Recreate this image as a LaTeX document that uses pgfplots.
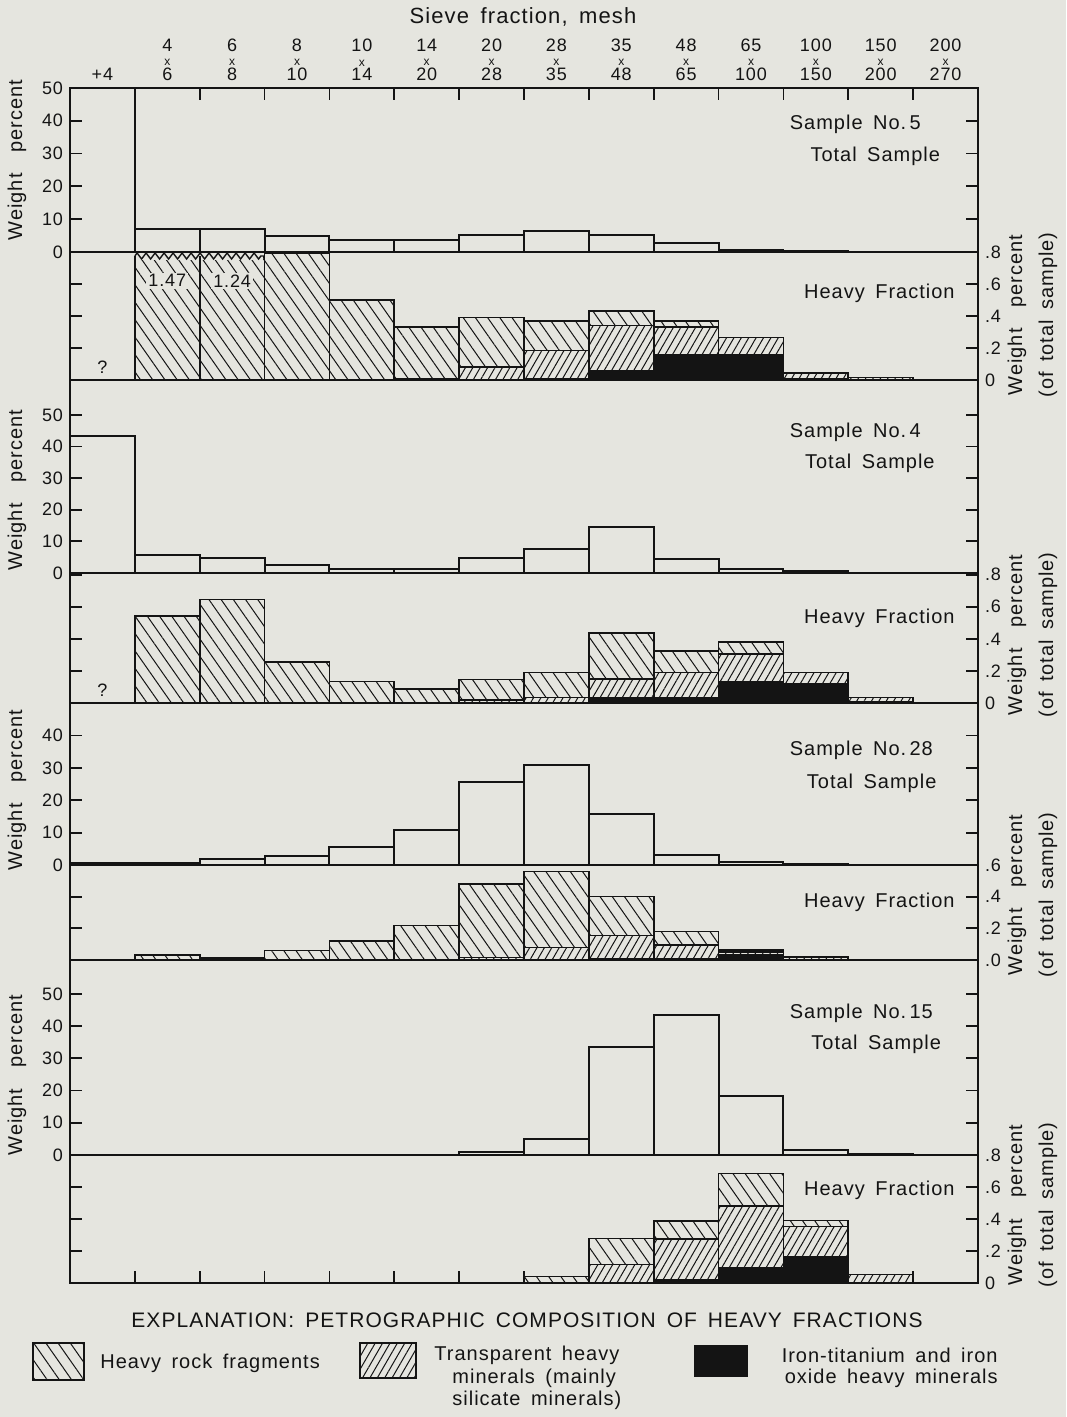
\documentclass[border=0pt]{standalone}
\usepackage{fontspec}
\setmainfont{Liberation Sans}[LetterSpace=5,WordSpace=1.6]
\usepackage{pgfplots}
\pgfplotsset{compat=1.18}
\usetikzlibrary{patterns.meta,decorations.pathmorphing}
\definecolor{bgc}{RGB}{229,229,223}
\definecolor{ink}{RGB}{20,20,20}

\pgfplotsset{
  panel/.style={scale only axis, width=454pt, xmin=-0.5, xmax=13.5,
    axis line style={ink, line width=1.2pt},
    ybar stacked, bar width=1,
    xtick=\empty, ymin=0,
    tick align=inside, major tick length=6pt,
    every tick/.style={ink, line width=0.9pt},
    ytick pos=both,
    tick label style={font=\fontsize{9}{10}\selectfont, text=ink},
    anchor=south west},
  total/.style={panel, yticklabel pos=left},
  heavy/.style={panel, yticklabel pos=right, ymax=0.8,
    ytick={0,0.2,0.4,0.6,0.8}, yticklabels={0,.2,.4,.6,.8}},
  tot/.style={draw=ink, line width=1pt, fill=none},
  iron/.style={draw=ink, line width=0.8pt, fill=ink},
  trans/.style={draw=ink, line width=0.8pt,
    pattern={Lines[angle=60,distance=3.2pt,line width=0.5pt]}, pattern color=ink},
  rock/.style={draw=ink, line width=0.8pt,
    pattern={Lines[angle=-55,distance=5pt,line width=0.5pt]}, pattern color=ink},
}
\newcommand{\lbl}{\fontsize{10}{12}\selectfont}
\newcommand{\sx}{{\fontsize{6}{6}\selectfont x}}

\begin{document}
\begin{tikzpicture}
\useasboundingbox[fill=bgc] (0,0) rectangle (533pt,-708.5pt);

\node[text=ink, font=\fontsize{11}{12}\selectfont] at (261.5pt,-8.5pt) {Sieve fraction, mesh};

% ---------- Sample 5 total
\begin{axis}[total, at={(35pt,-126pt)}, height=82pt, ymax=50,
  ytick={0,10,20,30,40,50}, yticklabels={0,10,20,30,40,50},
  xtick={0.5,1.5,...,12.5}, xticklabels={}, xtick pos=right,
  extra x ticks={0,1,...,13},
  extra x tick labels={{+4},{4\\\sx\\6},{6\\\sx\\8},{8\\\sx\\10},{10\\\sx\\14},{14\\\sx\\20},{20\\\sx\\28},{28\\\sx\\35},{35\\\sx\\48},{48\\\sx\\65},{65\\\sx\\100},{100\\\sx\\150},{150\\\sx\\200},{200\\\sx\\270}},
  extra x tick style={major tick length=0pt, xticklabel pos=right,
    xticklabel style={align=center, font=\fontsize{9}{7.4}\selectfont}}]
\addplot[tot] coordinates {(0,100) (1,7.1) (2,7.0) (3,5.0) (4,3.6) (5,3.6) (6,5.2) (7,6.4) (8,5.1) (9,2.6) (10,0.6) (11,0.2) (12,0.1) (13,0)};
\node[anchor=west, text=ink, font=\lbl] at (rel axis cs:0.785,0.78) {Sample No.\,5};
\node[anchor=east, text=ink, font=\lbl] at (rel axis cs:0.966,0.585) {Total Sample};
\end{axis}

% ---------- Sample 5 heavy
\begin{axis}[heavy, at={(35pt,-190pt)}, height=64pt]
\addplot[iron] coordinates {(1,0) (2,0) (3,0) (4,0) (5,0) (6,0) (7,0.01) (8,0.06) (9,0.157) (10,0.157) (11,0.01) (12,0)};
\addplot[trans] coordinates {(1,0) (2,0) (3,0) (4,0) (5,0.01) (6,0.083) (7,0.175) (8,0.28) (9,0.173) (10,0.108) (11,0.035) (12,0.015)};
\addplot[rock] coordinates {(1,0.77) (2,0.77) (3,0.79) (4,0.50) (5,0.32) (6,0.307) (7,0.185) (8,0.09) (9,0.04) (10,0) (11,0) (12,0)};
\node[text=ink, font=\fontsize{9}{10}\selectfont] at (axis cs:0,0.08) {?};
\node[anchor=east, text=ink, font=\lbl] at (rel axis cs:0.982,0.68) {Heavy Fraction};
\end{axis}
% overlay for the broken bars (drawn after the panel so it lies on top)
\begin{axis}[scale only axis, width=454pt, height=64pt, at={(35pt,-190pt)}, anchor=south west,
  xmin=-0.5, xmax=13.5, ymin=0, ymax=0.8, hide axis, clip=false]
\fill[bgc] (axis cs:0.52,0.752) rectangle (axis cs:2.48,0.786);
\draw[ink, line width=0.7pt, decorate, decoration={zigzag, segment length=4.5pt, amplitude=1.5pt}] (axis cs:0.5,0.775) -- (axis cs:2.5,0.775);
\draw[ink, line width=0.8pt] (axis cs:0.5,0.74) -- (axis cs:0.5,0.775) (axis cs:1.5,0.74) -- (axis cs:1.5,0.775) (axis cs:2.5,0.74) -- (axis cs:2.5,0.79);
\node[fill=bgc, inner sep=1pt, text=ink, font=\fontsize{9}{10}\selectfont] at (axis cs:1,0.62) {1.47};
\node[fill=bgc, inner sep=1pt, text=ink, font=\fontsize{9}{10}\selectfont] at (axis cs:2,0.62) {1.24};
\end{axis}

% ---------- Sample 4 total
\begin{axis}[total, at={(35pt,-286.5pt)}, height=96.5pt, ymax=61,
  ytick={0,10,20,30,40,50}, yticklabels={0,10,20,30,40,50}]
\addplot[tot] coordinates {(0,43.3) (1,5.7) (2,4.6) (3,2.6) (4,1.4) (5,1.4) (6,4.7) (7,7.6) (8,14.6) (9,4.5) (10,1.4) (11,0.7) (12,0) (13,0)};
\node[anchor=west, text=ink, font=\lbl] at (rel axis cs:0.785,0.73) {Sample No.\,4};
\node[anchor=east, text=ink, font=\lbl] at (rel axis cs:0.96,0.57) {Total Sample};
\end{axis}

% ---------- Sample 4 heavy
\begin{axis}[heavy, at={(35pt,-351.5pt)}, height=65pt, ymax=0.81]
\addplot[iron] coordinates {(1,0) (2,0) (3,0) (4,0) (5,0) (6,0) (7,0) (8,0.034) (9,0.03) (10,0.133) (11,0.118) (12,0.005)};
\addplot[trans] coordinates {(1,0) (2,0) (3,0) (4,0) (5,0) (6,0.02) (7,0.034) (8,0.116) (9,0.16) (10,0.172) (11,0.072) (12,0.029)};
\addplot[rock] coordinates {(1,0.543) (2,0.644) (3,0.255) (4,0.133) (5,0.086) (6,0.127) (7,0.156) (8,0.288) (9,0.134) (10,0.075) (11,0) (12,0)};
\node[text=ink, font=\fontsize{9}{10}\selectfont] at (axis cs:0,0.08) {?};
\node[anchor=east, text=ink, font=\lbl] at (rel axis cs:0.982,0.654) {Heavy Fraction};
\end{axis}

% ---------- Sample 28 total
\begin{axis}[total, at={(35pt,-432.5pt)}, height=81pt, ymax=50,
  ytick={0,10,20,30,40}, yticklabels={0,10,20,30,40}]
\addplot[tot] coordinates {(0,0.5) (1,0.5) (2,2.0) (3,2.9) (4,5.7) (5,10.9) (6,25.6) (7,30.8) (8,15.8) (9,3.1) (10,0.8) (11,0.2) (12,0.1) (13,0.1)};
\node[anchor=west, text=ink, font=\lbl] at (rel axis cs:0.785,0.71) {Sample No.\,28};
\node[anchor=east, text=ink, font=\lbl] at (rel axis cs:0.962,0.506) {Total Sample};
\end{axis}

% ---------- Sample 28 heavy
\begin{axis}[heavy, at={(35pt,-480pt)}, height=47.5pt, ymax=0.6,
  ytick={0,0.2,0.4,0.6}, yticklabels={.0,.2,.4,.6}]
\addplot[iron] coordinates {(1,0) (2,0) (3,0) (4,0) (5,0) (6,0) (7,0) (8,0.008) (9,0.006) (10,0.03) (11,0)};
\addplot[trans] coordinates {(1,0) (2,0.013) (3,0) (4,0) (5,0) (6,0.015) (7,0.078) (8,0.146) (9,0.089) (10,0.02) (11,0.019)};
\addplot[rock] coordinates {(1,0.032) (2,0) (3,0.06) (4,0.12) (5,0.217) (6,0.465) (7,0.482) (8,0.246) (9,0.084) (10,0.013) (11,0)};
\node[anchor=east, text=ink, font=\lbl] at (rel axis cs:0.982,0.61) {Heavy Fraction};
\end{axis}

% ---------- Sample 15 total
\begin{axis}[total, at={(35pt,-577.5pt)}, height=97.5pt, ymax=60.5,
  ytick={0,10,20,30,40,50}, yticklabels={0,10,20,30,40,50}]
\addplot[tot] coordinates {(0,0) (1,0) (2,0) (3,0) (4,0) (5,0) (6,0.8) (7,5.0) (8,33.4) (9,43.3) (10,18.2) (11,1.6) (12,0.2) (13,0)};
\node[anchor=west, text=ink, font=\lbl] at (rel axis cs:0.785,0.728) {Sample No.\,15};
\node[anchor=east, text=ink, font=\lbl] at (rel axis cs:0.967,0.569) {Total Sample};
\end{axis}

% ---------- Sample 15 heavy
\begin{axis}[heavy, at={(35pt,-641.5pt)}, height=64pt,
  xtick={0.5,1.5,...,12.5}, xticklabels={}, xtick pos=left]
\addplot[iron] coordinates {(7,0) (8,0) (9,0.021) (10,0.095) (11,0.164) (12,0)};
\addplot[trans] coordinates {(7,0) (8,0.116) (9,0.253) (10,0.385) (11,0.188) (12,0.053)};
\addplot[rock] coordinates {(7,0.04) (8,0.162) (9,0.113) (10,0.204) (11,0.038) (12,0)};
\node[anchor=east, text=ink, font=\lbl] at (rel axis cs:0.982,0.727) {Heavy Fraction};
\end{axis}

% ---------- side labels
\foreach \yy in {-80pt,-245pt,-395pt,-537.5pt}
  \node[rotate=90, text=ink, font=\lbl] at (8.5pt,\yy) {Weight\ \ percent};
\foreach \yy in {-157.5pt,-317.5pt,-447.5pt,-602.5pt}{
  \node[rotate=90, text=ink, font=\lbl] at (508.5pt,\yy) {Weight\ \ percent};
  \node[rotate=90, text=ink, font=\lbl] at (524pt,\yy) {(of total sample)};
}

% ---------- explanation
\node[text=ink, font=\fontsize{10.5}{12}\selectfont] at (263.5pt,-660pt) {EXPLANATION: PETROGRAPHIC COMPOSITION OF HEAVY FRACTIONS};
\path[pattern={Lines[angle=-55,distance=5pt,line width=0.5pt]}, pattern color=ink] (16.5pt,-671.5pt) rectangle (42pt,-690pt);
\draw[ink, line width=0.8pt] (16.5pt,-671.5pt) rectangle (42pt,-690pt);
\node[anchor=west, text=ink, font=\lbl, inner sep=0pt] at (50pt,-681.5pt) {Heavy rock fragments};
\path[pattern={Lines[angle=60,distance=3.2pt,line width=0.5pt]}, pattern color=ink] (180pt,-671.5pt) rectangle (208pt,-689pt);
\draw[ink, line width=0.8pt] (180pt,-671.5pt) rectangle (208pt,-689pt);
\node[anchor=west, text=ink, font=\lbl, inner sep=0pt] at (217pt,-677.5pt) {Transparent heavy};
\node[anchor=west, text=ink, font=\lbl, inner sep=0pt] at (226pt,-689pt) {minerals (mainly};
\node[anchor=west, text=ink, font=\lbl, inner sep=0pt] at (226pt,-700pt) {silicate minerals)};
\fill[ink] (347pt,-672.5pt) rectangle (374pt,-688.5pt);
\node[anchor=east, text=ink, font=\lbl, inner sep=0pt] at (499pt,-677.5pt) {Iron-titanium and iron};
\node[anchor=east, text=ink, font=\lbl, inner sep=0pt] at (499pt,-689pt) {oxide heavy minerals};
\end{tikzpicture}
\end{document}
